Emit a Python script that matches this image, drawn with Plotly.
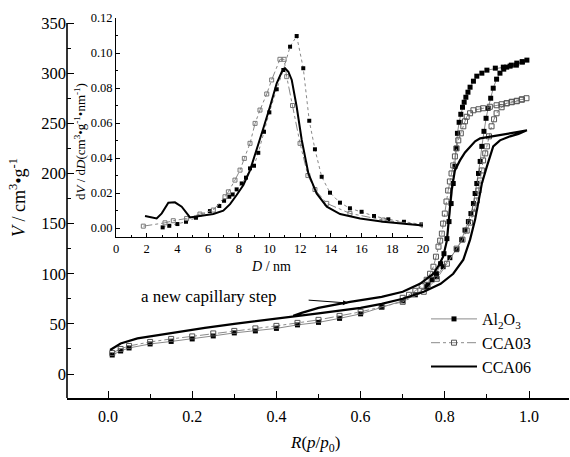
import plotly.graph_objects as go

# ---------------- main isotherm data (p/p0, V) ----------------
al_x = [0.01, 0.03, 0.05, 0.10, 0.15, 0.20, 0.25, 0.30, 0.35, 0.40, 0.45, 0.50, 0.55, 0.60,
        0.65, 0.70, 0.73, 0.757, 0.78, 0.796, 0.812, 0.828, 0.840, 0.848, 0.856, 0.862,
        0.868, 0.872, 0.876, 0.880, 0.884, 0.888, 0.893, 0.898, 0.903, 0.909, 0.915,
        0.923, 0.931, 0.940, 0.947, 0.958, 0.971, 0.984, 0.995,
        0.984, 0.970, 0.955, 0.939, 0.920, 0.900, 0.888, 0.876, 0.868, 0.860, 0.855,
        0.850, 0.846, 0.842, 0.838, 0.834, 0.830, 0.827, 0.824, 0.820, 0.815, 0.810,
        0.805, 0.798, 0.790, 0.780, 0.770, 0.760]
al_y = [19, 23, 26, 30, 32.5, 35, 38, 41, 43, 45.5, 49, 51.5, 55.5, 60,
        66.5, 73, 79, 87, 97, 107, 116, 124, 134, 143.5, 152, 160,
        170, 180, 190, 200, 212, 227, 242, 255, 265, 275, 285,
        294, 300, 304, 306, 308, 310, 311.5, 313,
        311, 308, 307, 306, 305, 303, 300, 297, 292, 286, 281,
        276, 271, 266, 259, 251, 240, 225, 207, 190, 170, 152,
        135, 120, 110, 100, 94, 89]

cca03_x = [0.01, 0.03, 0.05, 0.10, 0.15, 0.20, 0.25, 0.30, 0.35, 0.40, 0.45, 0.50, 0.55,
           0.60, 0.65, 0.70, 0.75, 0.781, 0.805, 0.828, 0.842, 0.852, 0.860, 0.868, 0.872,
           0.876, 0.880, 0.884, 0.888, 0.891, 0.896, 0.900, 0.905, 0.911, 0.917, 0.923,
           0.935, 0.947, 0.959, 0.971, 0.983, 0.994,
           0.983, 0.971, 0.959, 0.947, 0.935, 0.923, 0.907, 0.891, 0.880, 0.868, 0.860,
           0.852, 0.848, 0.844, 0.838, 0.832, 0.828, 0.824, 0.820, 0.816, 0.812, 0.808,
           0.804, 0.800, 0.796, 0.793, 0.789, 0.785, 0.779, 0.773, 0.765, 0.757, 0.745,
           0.730, 0.715, 0.700]
cca03_y = [21, 25, 28, 32, 35, 37.5, 40.5, 43, 45.5, 48, 51, 54, 58,
           62, 67, 72, 82, 95, 110, 125, 134, 143, 151, 160, 166,
           173, 183, 193, 203, 213, 220, 227, 237, 247, 254, 260,
           266, 270, 271.5, 272.5, 274, 275,
           273.5, 272, 271, 270, 269, 268, 266.5, 265, 264, 263, 260,
           256.5, 252, 247, 240, 233, 225, 217, 208, 200, 192, 183,
           172, 160, 150, 140, 133, 127, 117, 107, 100, 94, 88,
           83, 79, 76]

cca06_x = [0.005, 0.03, 0.07, 0.15, 0.23, 0.30, 0.40, 0.45, 0.50, 0.60, 0.65, 0.70, 0.75,
           0.79, 0.82, 0.844, 0.86, 0.872, 0.88, 0.888, 0.90, 0.915, 0.931, 0.955, 0.975, 0.995,
           0.975, 0.955, 0.935, 0.915, 0.900, 0.884, 0.872, 0.860, 0.848, 0.836, 0.824, 0.816,
           0.811, 0.805, 0.796, 0.785, 0.773, 0.741, 0.70, 0.65, 0.575, 0.50, 0.46, 0.44]
cca06_y = [24, 30.5, 35.5, 41, 46, 50, 55, 58, 60.5, 66, 70, 75, 82,
           90, 100, 114, 134, 154, 174, 190, 207, 227, 233, 237, 239.5, 243,
           241.5, 240, 238.5, 237, 236, 235, 232, 227, 221, 213, 203, 183,
           160, 133, 117, 108, 100, 90, 82, 77, 72, 66, 61, 58]

# ---------------- inset PSD data (D / nm, dV/dD) ----------------
psd_al_x = [3.04, 3.47, 4.0, 4.56, 5.21, 6.12, 6.73, 7.04, 7.38, 7.6, 7.86, 8.19, 8.47,
            8.73, 8.99, 9.27, 9.64, 9.99, 10.47, 10.9, 11.34, 11.77, 12.2, 12.59, 12.96,
            13.4, 13.94, 14.59, 15.24, 16.0, 16.81, 17.74, 18.76, 19.9]
psd_al_y = [0.0004, 0.0013, 0.0023, 0.0036, 0.0059, 0.0097, 0.0126, 0.0156, 0.0179, 0.0192,
            0.0221, 0.0255, 0.0288, 0.0341, 0.0356, 0.043, 0.055, 0.0661, 0.0793, 0.0903,
            0.1036, 0.1097, 0.0913, 0.0613, 0.045, 0.0293, 0.0202, 0.0145, 0.0113, 0.0093,
            0.0069, 0.005, 0.0036, 0.0021]

psd_cca03_x = [1.78, 3.19, 3.73, 4.6, 5.47, 6.34, 7.1, 7.32, 7.75, 8.08, 8.36, 8.73, 9.06,
               9.38, 9.82, 10.14, 10.68, 10.95, 11.12, 11.5, 11.99, 12.5, 12.96, 13.73,
               15.24, 17.41, 20.0]
psd_cca03_y = [0.0011, 0.003, 0.0042, 0.0055, 0.008, 0.0103, 0.0179, 0.0207, 0.0274, 0.0331,
               0.0398, 0.0484, 0.0598, 0.0674, 0.0766, 0.0846, 0.0964, 0.0964, 0.0865,
               0.07, 0.0484, 0.03, 0.022, 0.0141, 0.0084, 0.0046, 0.0017]

psd_cca06_x = [1.89, 2.65, 2.98, 3.41, 3.84, 4.28, 4.82, 5.47, 6.34, 6.99, 7.43, 7.86, 8.3,
               8.73, 9.17, 9.6, 10.03, 10.47, 10.8, 11.01, 11.23, 11.45, 11.77, 12.1, 12.53,
               13.07, 13.73, 14.6, 15.9, 17.41, 18.94, 20.0]
psd_cca06_y = [0.0069, 0.0055, 0.0084, 0.0145, 0.0147, 0.0122, 0.0061, 0.0069, 0.008, 0.0099,
               0.0137, 0.0189, 0.0246, 0.033, 0.0446, 0.057, 0.0693, 0.0827, 0.0893, 0.0913,
               0.0893, 0.0846, 0.0693, 0.0503, 0.0313, 0.0198, 0.0122, 0.008, 0.0055, 0.0036,
               0.0023, 0.0015]

names = ["Al<sub>2</sub>O<sub>3</sub>", "CCA03", "CCA06"]

FONT = "Liberation Serif, Times New Roman, serif"
W, H = 570, 457
L, R, T, B = 67, 1, 18, 59
PW, PH = W - L - R, H - T - B


def px(xp):
    return (xp - L) / PW


def py(yp):
    return (H - B - yp) / PH


fig = go.Figure()

# main isotherms
fig.add_trace(go.Scatter(x=al_x, y=al_y, name=names[0], mode="lines+markers",
                         line=dict(color="#8a8a8a", width=1),
                         marker=dict(symbol="square", size=5, color="black")))
fig.add_trace(go.Scatter(x=cca03_x, y=cca03_y, name=names[1], mode="lines+markers",
                         line=dict(color="#8a8a8a", width=1, dash="dashdot"),
                         marker=dict(symbol="square-open", size=5, color="#555555",
                                     line=dict(width=1))))
fig.add_trace(go.Scatter(x=cca06_x, y=cca06_y, name=names[2], mode="lines",
                         line=dict(color="black", width=2.2)))

# inset
fig.add_trace(go.Scatter(x=psd_al_x, y=psd_al_y, xaxis="x2", yaxis="y2", showlegend=False,
                         mode="lines+markers",
                         line=dict(color="#888888", width=1, dash="dot"),
                         marker=dict(symbol="square", size=4, color="black")))
fig.add_trace(go.Scatter(x=psd_cca03_x, y=psd_cca03_y, xaxis="x2", yaxis="y2", showlegend=False,
                         mode="lines+markers",
                         line=dict(color="#888888", width=1, dash="dashdot"),
                         marker=dict(symbol="square-open", size=4, color="#777777",
                                     line=dict(width=1))))
fig.add_trace(go.Scatter(x=psd_cca06_x, y=psd_cca06_y, xaxis="x2", yaxis="y2", showlegend=False,
                         mode="lines", line=dict(color="black", width=2)))

axis_common = dict(showgrid=False, zeroline=False, ticks="inside", tickcolor="black",
                   linecolor="black", color="black", automargin=False)

fig.update_layout(
    width=W, height=H,
    margin=dict(l=L, r=R, t=T, b=B, pad=0, autoexpand=False),
    paper_bgcolor="white", plot_bgcolor="rgba(0,0,0,0)",
    font=dict(family=FONT, size=16, color="black"),
    xaxis=dict(range=[-0.0974, 1.095], tickvals=[0, 0.2, 0.4, 0.6, 0.8, 1.0],
               ticktext=["0.0", "0.2", "0.4", "0.6", "0.8", "1.0"],
               showline=True, linewidth=1.6, ticklen=7, tickwidth=1.2,
               ticklabelstandoff=3,
               minor=dict(dtick=0.1, tick0=0, ticks="inside", ticklen=4, tickcolor="black"),
               tickfont=dict(size=16), **axis_common),
    yaxis=dict(range=[-23.9, 355], tickvals=[0, 50, 100, 150, 200, 250, 300, 350],
               showline=False, ticklen=7, tickwidth=1.2,
               minor=dict(dtick=25, tick0=0, ticks="inside", ticklen=4, tickcolor="black"),
               tickfont=dict(size=16.5), **axis_common),
    xaxis2=dict(domain=[px(116), px(423)], anchor="y2", range=[0, 20], dtick=2, tick0=0,
                showline=True, linewidth=1, ticklen=4, tickwidth=1,
                minor=dict(dtick=1, ticks="inside", ticklen=2, tickcolor="black"),
                tickfont=dict(size=12.5), **axis_common),
    yaxis2=dict(domain=[py(237), 1.0], anchor="x2", range=[-0.0051, 0.12], dtick=0.02, tick0=0,
                tickformat=".2f", showline=True, linewidth=1, ticklen=4, tickwidth=1,
                minor=dict(dtick=0.01, ticks="inside", ticklen=2, tickcolor="black"),
                tickfont=dict(size=12.5), **axis_common),
    legend=dict(x=px(426), y=py(302), xanchor="left", yanchor="top",
                bgcolor="rgba(0,0,0,0)", font=dict(size=16), tracegroupgap=0,
                itemwidth=46),
    showlegend=True,
)

# main y-axis line (ends at 350)
fig.add_shape(type="line", xref="paper", yref="y", x0=0, x1=0, y0=-23.9, y1=350,
              line=dict(color="black", width=1.6))


def note(xp, yp, text, size, angle=0):
    fig.add_annotation(xref="paper", yref="paper", x=px(xp), y=py(yp), showarrow=False,
                       xanchor="center", yanchor="middle", text=text, textangle=angle,
                       font=dict(size=size))


# axis titles
note(17, 198, "<i>V</i> / cm<sup>3</sup>•g<sup>-1</sup>", 18, -90)
note(315, 444, "<i>R</i>(<i>p</i>/<i>p</i><sub>0</sub>)", 17)
note(80, 142, "d<i>V</i> / d<i>D</i>(cm<sup>3</sup>•g<sup>-1</sup>•nm<sup>-1</sup>)", 13, -90)
note(271, 266, "<i>D</i> / nm", 14)

# capillary step note
note(208, 296, "a new capillary step", 17)
fig.add_annotation(x=0.570, y=70.8, ax=0.473, ay=73.8, xref="x", yref="y",
                   axref="x", ayref="y", text="", showarrow=True,
                   arrowhead=2, arrowsize=1, arrowwidth=1, arrowcolor="black")

fig.write_html("out.html", config={"displayModeBar": False},
               post_script="document.body.style.margin='0';")
